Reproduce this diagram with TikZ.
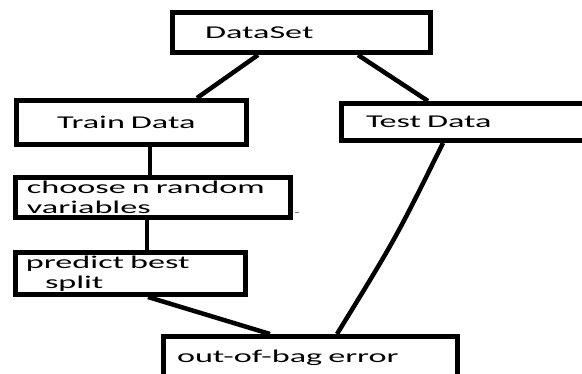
\documentclass[tikz,border=0pt]{standalone}
\usepackage{fontspec}
\setmainfont{Carlito}[FakeStretch=1.9]
\begin{document}
\begin{tikzpicture}[x=1pt,y=-1pt,
  box/.style={draw, line width=5pt, rectangle, align=left, inner ysep=0pt,
    font=\fontsize{18}{20}\selectfont, text=black},
  conn/.style={line width=4.5pt}]
\useasboundingbox (0,0) rectangle (582,374);
\clip (0,0) rectangle (582,374);
\node[box, minimum width=258pt, minimum height=40pt, inner xsep=32.5pt, text width=193pt] (ds) at (301.5,32.5) {DataSet};
\node[box, minimum width=230pt, minimum height=44pt, inner xsep=40.5pt, text width=149pt] (train) at (131.5,122.5) {Train~Data};
\node[box, minimum width=276pt, minimum height=37pt, inner xsep=24.5pt, text width=227pt] (test) at (479.5,122) {Test~Data};
\node[box, minimum width=275pt, minimum height=40pt, inner xsep=11.5pt, text width=252pt] (choose) at (153,197.5) {choose~n~random\\variables};
\node[box, minimum width=230pt, minimum height=42pt, inner xsep=10.5pt, text width=209pt] (predict) at (130.5,273.5) {predict~best\\\hspace*{19pt}split};
\node[box, minimum width=294pt, minimum height=43pt, inner xsep=13.5pt, text width=267pt] (oob) at (310.5,358) {out-of-bag~error};
\draw[conn] ([xshift=-43.5pt]ds.south) -- ([xshift=65.5pt]train.north);
\draw[conn] ([xshift=56.5pt]ds.south) -- ([xshift=-51.5pt]test.north);
\draw[conn] ([xshift=18.5pt]train.south) -- ([xshift=-3pt]choose.north);
\draw[conn] ([xshift=-6pt]choose.south) -- ([xshift=16.5pt]predict.north);
\draw[conn] ([xshift=17.5pt]predict.south) -- ([xshift=-40.5pt]oob.north);
\draw[conn] ([xshift=-36.5pt]test.south) .. controls (396,238) .. ([xshift=26.5pt]oob.north);
\coordinate (mk) at (297,212);
\draw[gray, line width=0.8pt] ([xshift=-2pt]mk) -- ([xshift=2pt]mk);
\end{tikzpicture}
\end{document}
